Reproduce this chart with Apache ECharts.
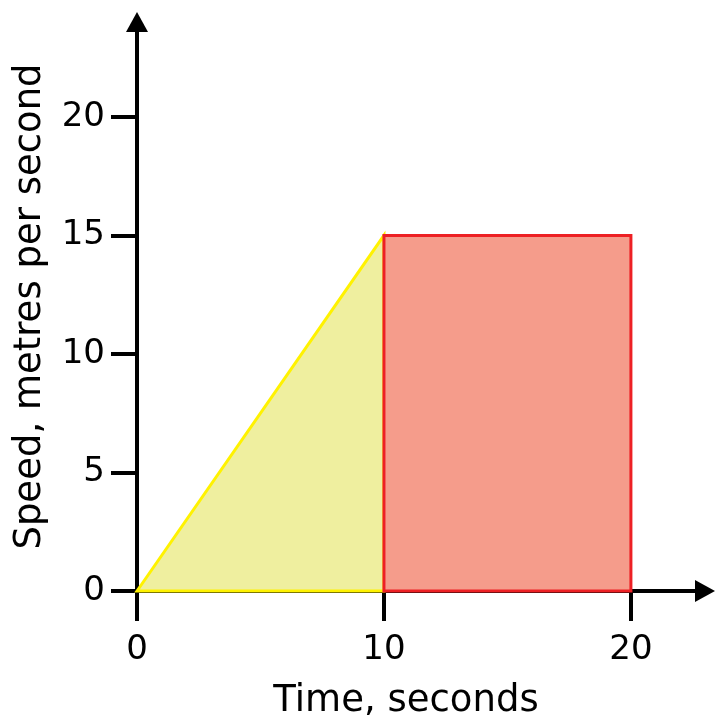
<!DOCTYPE html>
<html>
<head>
<meta charset="utf-8">
<script src="https://cdn.jsdelivr.net/npm/echarts@6/dist/echarts.min.js"></script>
<style>
  html, body { margin: 0; padding: 0; background: #fff; }
  #chart { width: 716px; height: 717px; }
</style>
</head>
<body>
<div id="chart"></div>
<script>
// speed-time graph: accelerate for 10 s, then constant 15 m/s
const xTicks = [0, 10, 20]
const yTicks = [0, 5, 10, 15, 20]
// triangle (acceleration phase)
const triTime = [0, 10, 10]
const triSpeed = [0, 15, 0]
// rectangle (constant speed phase)
const rectTime = [10, 10, 20, 20]
const rectSpeed = [0, 15, 15, 0]

const font = '"DejaVu Sans", Verdana, sans-serif'

function polygonSeries (xs, ys, fill, stroke, z) {
  return {
    type: 'custom',
    z: z,
    data: [0],
    clip: false,
    renderItem: function (params, api) {
      const pts = xs.map(function (x, i) { return api.coord([x, ys[i]]) })
      return {
        type: 'polygon',
        shape: { points: pts },
        style: { fill: fill, stroke: stroke, lineWidth: 3, lineJoin: 'miter' }
      }
    }
  }
}

const chart = echarts.init(document.getElementById('chart'))
chart.setOption({
  backgroundColor: '#fff',
  animation: false,
  grid: { left: 137, right: 11, top: 22, bottom: 126, containLabel: false, outerBoundsMode: 'none' },
  xAxis: {
    type: 'value',
    min: 0,
    max: 23,
    name: 'Time, seconds',
    nameLocation: 'middle',
    nameGap: 92,
    nameTextStyle: { fontFamily: font, fontSize: 37, color: '#000', padding: [0, 30, 0, 0] },
    axisLine: {
      show: true,
      onZero: false,
      symbol: ['none', 'triangle'],
      symbolSize: [22, 20],
      lineStyle: { color: '#000', width: 4 }
    },
    axisTick: {
      show: true,
      customValues: xTicks,
      length: 30,
      lineStyle: { color: '#000', width: 4 }
    },
    axisLabel: {
      customValues: xTicks,
      margin: 42,
      fontFamily: font,
      fontSize: 34,
      color: '#000'
    },
    splitLine: { show: false }
  },
  yAxis: {
    type: 'value',
    min: 0,
    max: 24,
    name: 'Speed, metres per second',
    nameLocation: 'middle',
    nameGap: 88,
    nameTextStyle: { fontFamily: font, fontSize: 37, color: '#000' },
    axisLine: {
      show: true,
      onZero: false,
      symbol: ['none', 'triangle'],
      symbolSize: [22, 20],
      lineStyle: { color: '#000', width: 4 }
    },
    axisTick: {
      show: true,
      customValues: yTicks,
      length: 26,
      lineStyle: { color: '#000', width: 4 }
    },
    axisLabel: {
      customValues: yTicks,
      margin: 32,
      fontFamily: font,
      fontSize: 34,
      color: '#000'
    },
    splitLine: { show: false }
  },
  series: [
    polygonSeries(triTime, triSpeed, '#EFEF9F', '#FFF200', 3),
    polygonSeries(rectTime, rectSpeed, '#F59C8B', '#ED2024', 4)
  ]
})
</script>
</body>
</html>
